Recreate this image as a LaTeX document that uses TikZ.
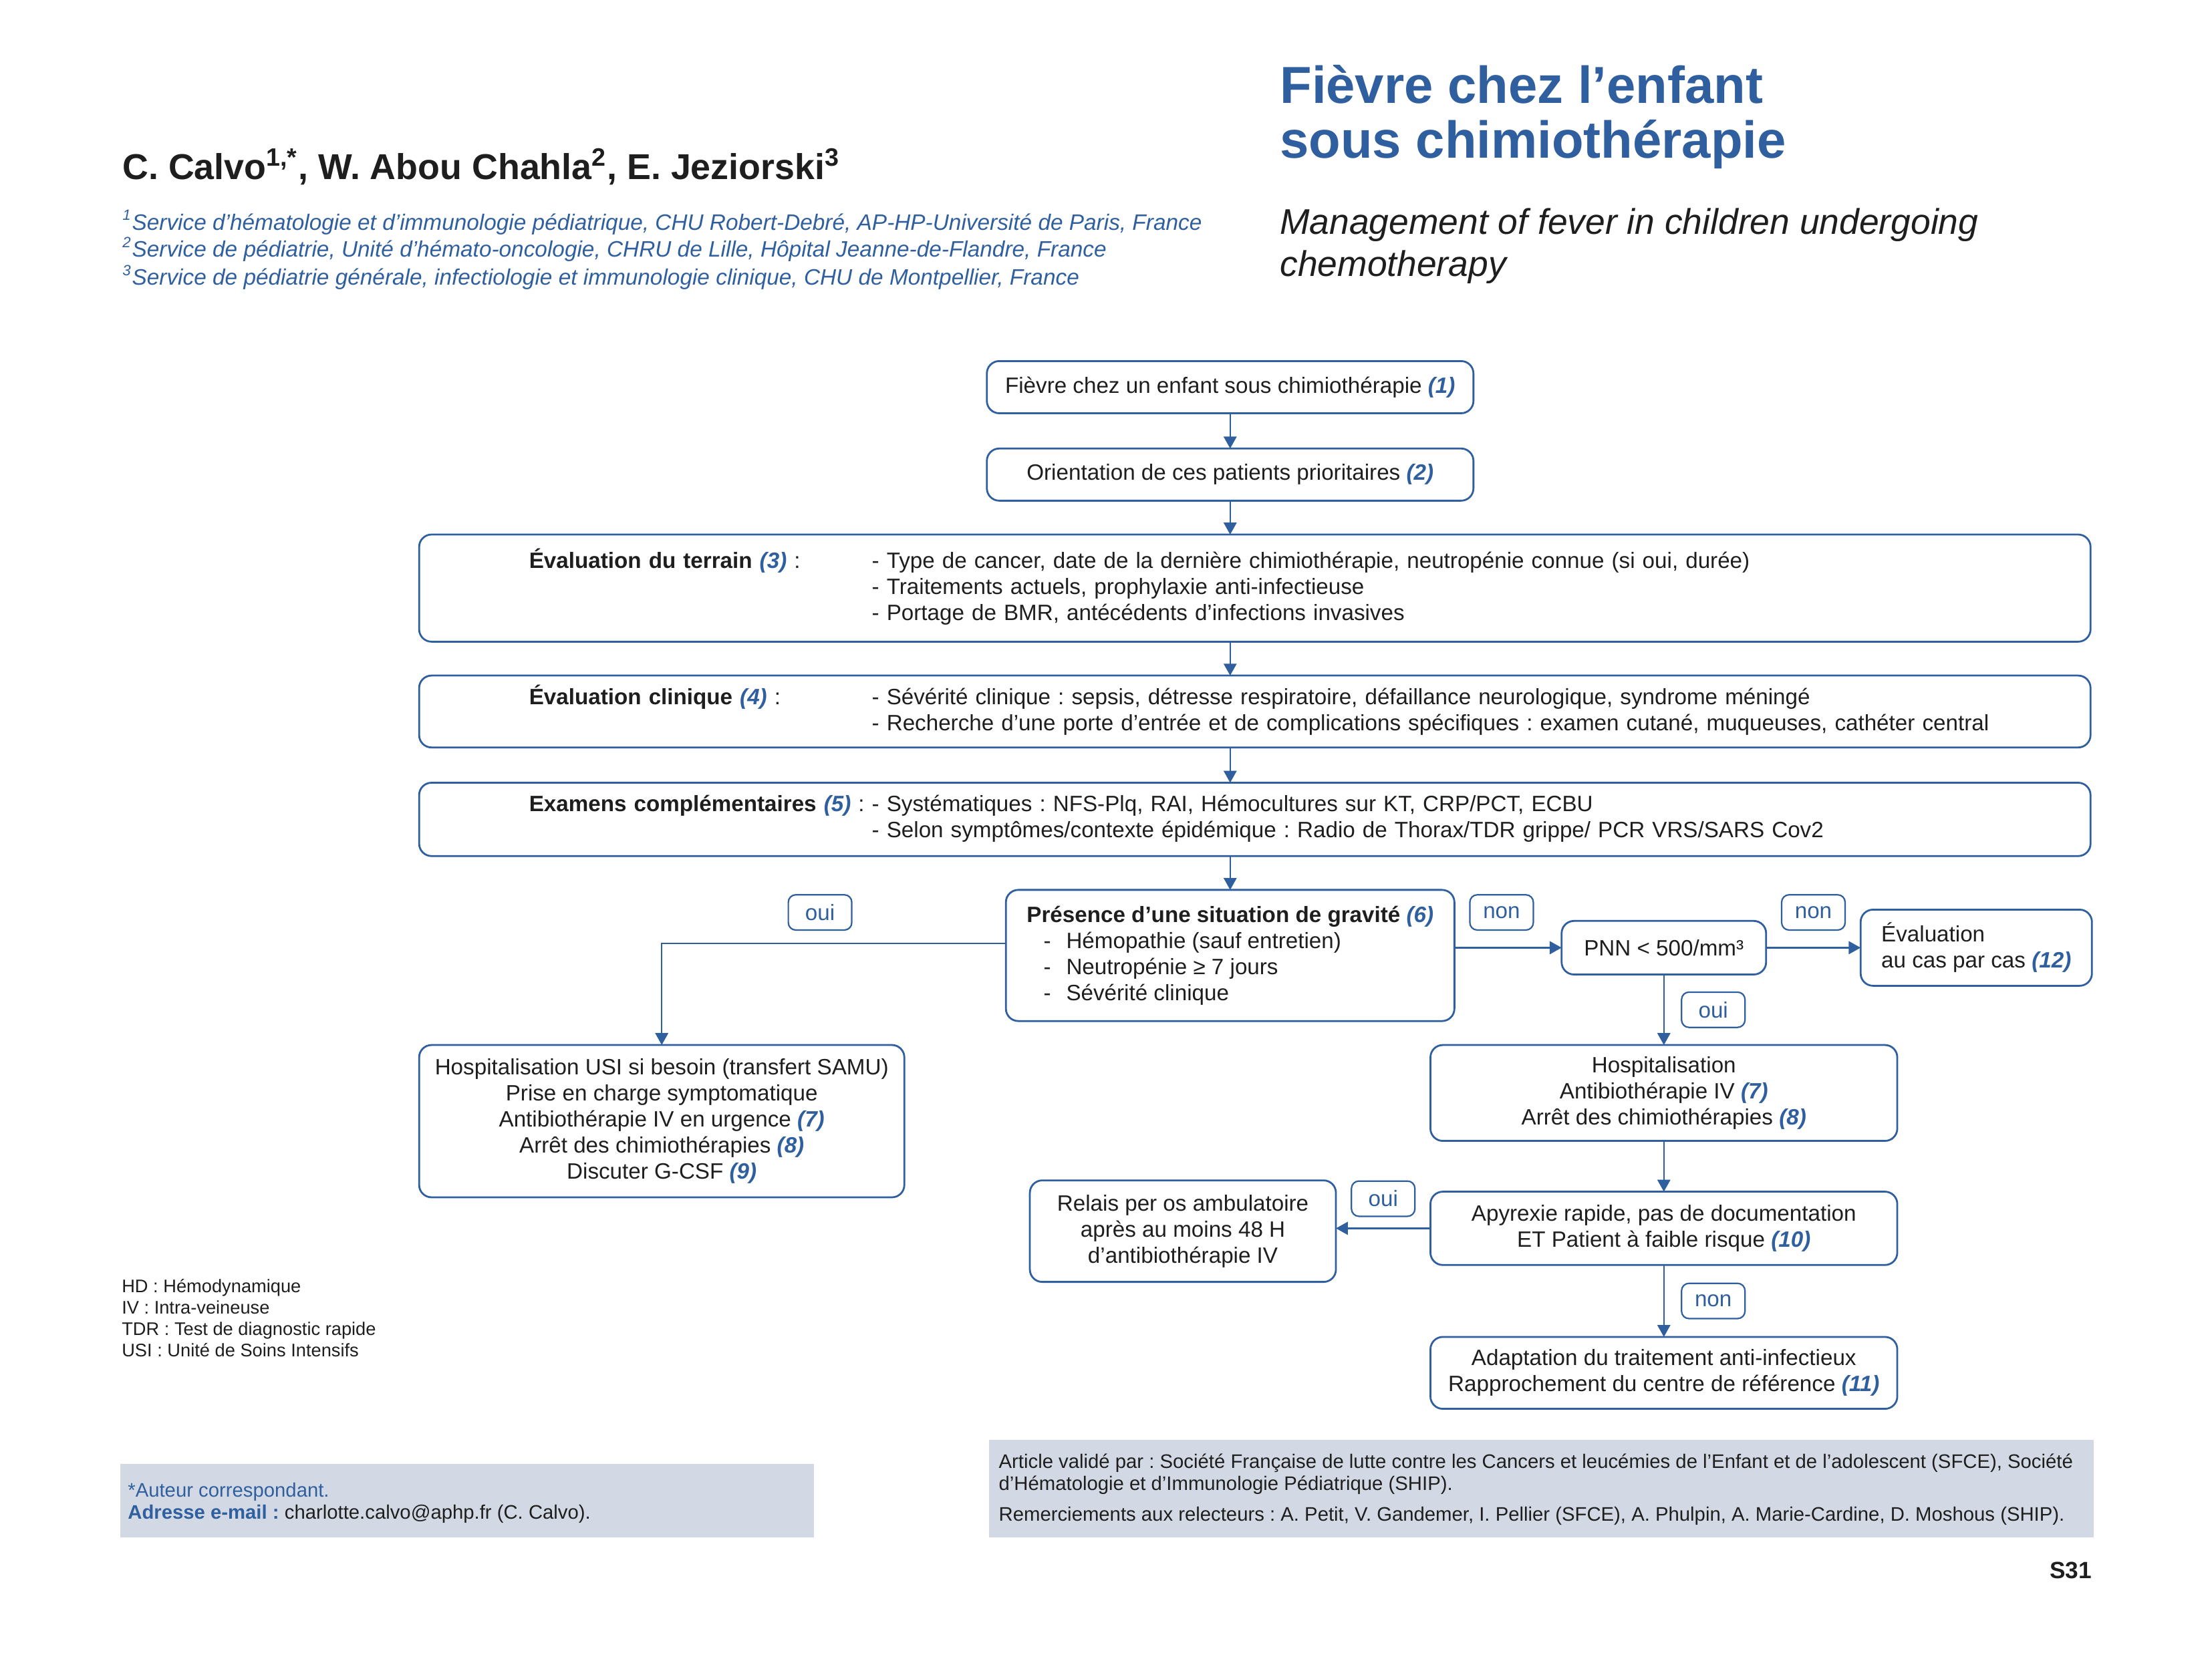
\documentclass[tikz,border=0pt]{standalone}
\usepackage{fontspec}
\setmainfont{Liberation Sans}
\usepackage{xcolor}
\usepackage{tikz}
\usetikzlibrary{arrows.meta, positioning, calc}
\definecolor{chimioblue}{HTML}{2F5F9E}
\definecolor{footgray}{HTML}{D3D9E4}
\definecolor{textdark}{HTML}{1E1E1E}

\newcommand{\bnum}[1]{{\color{chimioblue}\bfseries\itshape(#1)}}
\newcommand{\dashitem}{\hspace*{0.24cm}\makebox[0.32cm][l]{-}}

\begin{document}
\frenchspacing
\begin{tikzpicture}[x=0.02cm, y=-0.02cm, font=\fontsize{8.95}{10.5}\selectfont, text=textdark,
    flowbox/.style={rectangle, rounded corners=5pt, draw=chimioblue, line width=0.75pt,
      align=center, inner sep=2pt, outer sep=0pt},
    widebox/.style={flowbox, text width=20.58cm, inner xsep=1.56cm, align=left},
    answer/.style={rectangle, rounded corners=3pt, draw=chimioblue, line width=0.6pt, fill=white,
      minimum width=0.9cm, minimum height=0.5cm, inner sep=1pt},
    conn/.style={-{Triangle[length=4.8pt, width=5.2pt]}, line width=0.6pt, chimioblue},
    headtext/.style={anchor=base west, inner sep=0pt}]

    \useasboundingbox (0,0) rectangle (1568,1174.8);

    % Header
    \node (title1) [headtext, font=\fontsize{21}{22}\selectfont\bfseries, text=chimioblue]
      at (907,73.4) {Fièvre chez l’enfant};
    \node (title2) [headtext, font=\fontsize{21}{22}\selectfont\bfseries, text=chimioblue]
      at (907,112.2) {sous chimiothérapie};
    \node (sub1) [headtext, font=\fontsize{14.4}{17}\selectfont\itshape]
      at (907,166) {Management of fever in children undergoing};
    \node (sub2) [headtext, font=\fontsize{14.4}{17}\selectfont\itshape]
      at (907,196) {chemotherapy};
    \node (authors) [headtext, font=\fontsize{14.5}{16}\selectfont\bfseries] at (86.5,127)
      {C. Calvo\textsuperscript{1,*}, W. Abou Chahla\textsuperscript{2}, E. Jeziorski\textsuperscript{3}};
    \node (aff1) [headtext, font=\fontsize{9}{10}\selectfont\itshape, text=chimioblue] at (86.5,163)
      {\textsuperscript{1}Service d’hématologie et d’immunologie pédiatrique, CHU Robert-Debré, AP-HP-Université de Paris, France};
    \node (aff2) [headtext, font=\fontsize{9}{10}\selectfont\itshape, text=chimioblue] at (86.5,182)
      {\textsuperscript{2}Service de pédiatrie, Unité d’hémato-oncologie, CHRU de Lille, Hôpital Jeanne-de-Flandre, France};
    \node (aff3) [headtext, font=\fontsize{9}{10}\selectfont\itshape, text=chimioblue] at (86.5,202)
      {\textsuperscript{3}Service de pédiatrie générale, infectiologie et immunologie clinique, CHU de Montpellier, France};

    % Main column
    \node (fever) [flowbox, minimum width=6.9cm, minimum height=0.74cm] at (872,274.5)
      {Fièvre chez un enfant sous chimiothérapie \bnum{1}};
    \node (orient) [flowbox, below=0.5cm of fever, minimum width=6.9cm, minimum height=0.74cm]
      {Orientation de ces patients prioritaires \bnum{2}};
    \node (terrain) [widebox, below=0.48cm of orient, xshift=0.35cm, minimum height=1.52cm]
      {\noindent\makebox[4.86cm][l]{\textbf{Évaluation du terrain \bnum{3}} :}%
       \begin{tabular}[t]{@{}l@{}}
       - Type de cancer, date de la dernière chimiothérapie, neutropénie connue (si oui, durée)\\
       - Traitements actuels, prophylaxie anti-infectieuse\\
       - Portage de BMR, antécédents d’infections invasives
       \end{tabular}};
    \node (clinique) [widebox, below=0.48cm of terrain, minimum height=1.02cm]
      {\noindent\makebox[4.86cm][l]{\textbf{Évaluation clinique \bnum{4}} :}%
       \begin{tabular}[t]{@{}l@{}}
       - Sévérité clinique : sepsis, détresse respiratoire, défaillance neurologique, syndrome méningé\\
       - Recherche d’une porte d’entrée et de complications spécifiques : examen cutané, muqueuses, cathéter central
       \end{tabular}};
    \node (examens) [widebox, below=0.5cm of clinique, minimum height=1.04cm]
      {\noindent\makebox[4.86cm][l]{\textbf{Examens complémentaires \bnum{5}} :}%
       \begin{tabular}[t]{@{}l@{}}
       - Systématiques : NFS-Plq, RAI, Hémocultures sur KT, CRP/PCT, ECBU\\
       - Selon symptômes/contexte épidémique : Radio de Thorax/TDR grippe/ PCR VRS/SARS Cov2
       \end{tabular}};
    \node (gravite) [flowbox, below=0.48cm of examens, xshift=-0.35cm, align=left,
      minimum width=6.36cm, minimum height=1.86cm]
      {\textbf{Présence d’une situation de gravité \bnum{6}}\\
       \dashitem Hémopathie (sauf entretien)\\
       \dashitem Neutropénie ≥ 7 jours\\
       \dashitem Sévérité clinique};

    % Severe branch
    \node (usi) [flowbox, below left=0.34cm and 1.44cm of gravite,
      minimum width=6.88cm, minimum height=2.16cm]
      {Hospitalisation USI si besoin (transfert SAMU)\\
       Prise en charge symptomatique\\
       Antibiothérapie IV en urgence \bnum{7}\\
       Arrêt des chimiothérapies \bnum{8}\\
       Discuter G-CSF \bnum{9}};

    % Neutropenia branch
    \node (pnn) [flowbox, right=1.52cm of gravite, yshift=0.11cm,
      minimum width=2.9cm, minimum height=0.76cm] {PNN < 500/mm³};
    \node (cascas) [flowbox, right=1.34cm of pnn, align=left,
      minimum width=3.28cm, minimum height=1.08cm]
      {Évaluation\\au cas par cas \bnum{12}};
    \node (hosp) [flowbox, below=1.0cm of pnn, minimum width=6.62cm, minimum height=1.36cm]
      {Hospitalisation\\Antibiothérapie IV \bnum{7}\\Arrêt des chimiothérapies \bnum{8}};
    \node (apyr) [flowbox, below=0.72cm of hosp, minimum width=6.62cm, minimum height=1.04cm]
      {Apyrexie rapide, pas de documentation\\ET Patient à faible risque \bnum{10}};
    \node (adapt) [flowbox, below=1.02cm of apyr, minimum width=6.62cm, minimum height=1.02cm]
      {Adaptation du traitement anti-infectieux\\Rapprochement du centre de référence \bnum{11}};
    \node (relais) [flowbox, left=1.34cm of apyr, yshift=-0.04cm,
      minimum width=4.34cm, minimum height=1.44cm]
      {Relais per os ambulatoire\\après au moins 48 H\\d’antibiothérapie IV};

    % Connections
    \draw[conn] (fever) -- (orient);
    \draw[conn] (orient) -- (orient |- terrain.north);
    \draw[conn] (orient |- terrain.south) -- (orient |- clinique.north);
    \draw[conn] (orient |- clinique.south) -- (orient |- examens.north);
    \draw[conn] (gravite |- examens.south) -- (gravite);
    \draw[conn] ([yshift=0.17cm]gravite.west) -| (usi)
      node[answer, pos=0.27, above=0.18cm] {oui};
    \draw[conn] (gravite.east |- pnn) -- (pnn)
      node[answer, pos=0.44, above=0.24cm] {non};
    \draw[conn] (pnn) -- (cascas)
      node[answer, midway, above=0.24cm] {non};
    \draw[conn] (pnn) -- (hosp)
      node[answer, midway, right=0.24cm] {oui};
    \draw[conn] (hosp) -- (apyr);
    \draw[conn] (apyr.west) -- (apyr.west -| relais.east)
      node[answer, midway, above=0.16cm] {oui};
    \draw[conn] (apyr) -- (adapt)
      node[answer, midway, right=0.24cm] {non};

    % Abbreviations
    \node (abbr1) [headtext, font=\fontsize{7.35}{8.6}\selectfont] at (86,916.4) {HD : Hémodynamique};
    \node (abbr2) [headtext, font=\fontsize{7.35}{8.6}\selectfont] at (86,931.6) {IV : Intra-veineuse};
    \node (abbr3) [headtext, font=\fontsize{7.35}{8.6}\selectfont] at (86,946.8) {TDR : Test de diagnostic rapide};
    \node (abbr4) [headtext, font=\fontsize{7.35}{8.6}\selectfont] at (86,962) {USI : Unité de Soins Intensifs};

    % Footer
    \fill[footgray] (85.3,1038) rectangle (577,1090);
    \node (corresp) [headtext, font=\fontsize{7.9}{8.8}\selectfont, text=chimioblue] at (90.3,1061.4)
      {*Auteur correspondant.};
    \node (mail) [headtext, font=\fontsize{7.9}{8.8}\selectfont] at (90.3,1077)
      {{\color{chimioblue}\bfseries Adresse e-mail :} charlotte.calvo@aphp.fr (C. Calvo).};
    \fill[footgray] (701,1021) rectangle (1484,1090);
    \node (valid1) [headtext, font=\fontsize{7.9}{8.8}\selectfont] at (707.7,1041)
      {Article validé par : Société Française de lutte contre les Cancers et leucémies de l’Enfant et de l’adolescent (SFCE), Société};
    \node (valid2) [headtext, font=\fontsize{7.9}{8.8}\selectfont] at (707.7,1056.8)
      {d’Hématologie et d’Immunologie Pédiatrique (SHIP).};
    \node (thanks) [headtext, font=\fontsize{7.9}{8.8}\selectfont] at (707.7,1078.3)
      {Remerciements aux relecteurs : A. Petit, V. Gandemer, I. Pellier (SFCE), A. Phulpin, A. Marie-Cardine, D. Moshous (SHIP).};
    \node (page) [anchor=base east, inner sep=0pt, font=\fontsize{9.5}{11}\selectfont\bfseries]
      at (1483,1119) {S31};
\end{tikzpicture}
\end{document}
